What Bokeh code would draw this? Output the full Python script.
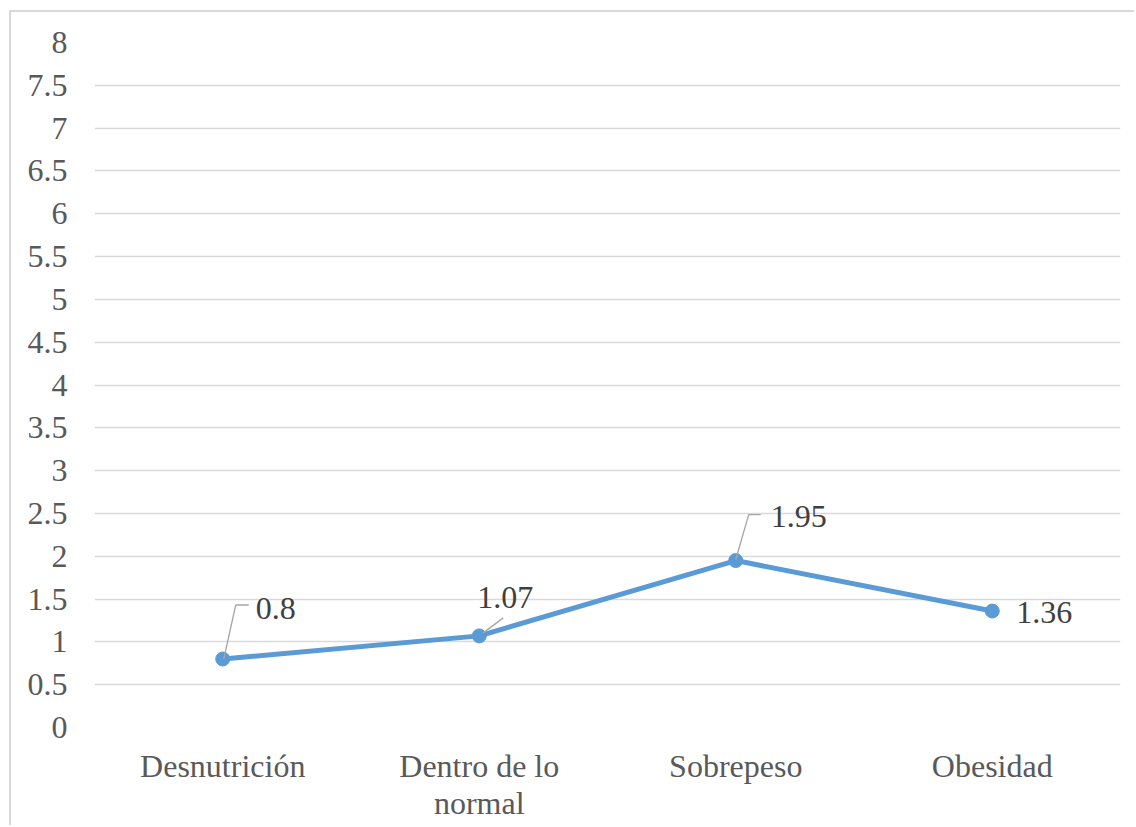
from bokeh.plotting import figure
from bokeh.models import Range1d, FixedTicker, ColumnDataSource
from bokeh.embed import file_html
from bokeh.resources import INLINE
from bokeh.core.properties import value

categories = ["Desnutrición", "Dentro de lo\nnormal", "Sobrepeso", "Obesidad"]
values = [0.8, 1.07, 1.95, 1.36]
labels = ["0.8", "1.07", "1.95", "1.36"]
y_ticks = [0, 0.5, 1, 1.5, 2, 2.5, 3, 3.5, 4, 4.5, 5, 5.5, 6, 6.5, 7, 7.5, 8]

FONT = "Liberation Serif"
TXT = "#595959"
BLUE = "#5B9BD5"
GRID = "#D9D9D9"

xs = list(range(len(categories)))

p = figure(width=1125, height=815, output_backend="svg", toolbar_location=None,
           x_range=Range1d(-0.5, len(categories) - 0.5), y_range=Range1d(0, 8),
           min_border_left=83, min_border_right=16, min_border_top=30, min_border_bottom=100)
p.margin = (10, 0, 0, 9)
p.styles = {"border-top": "2px solid #D9D9D9", "border-left": "2px solid #D9D9D9"}
p.outline_line_color = None

p.xaxis.ticker = FixedTicker(ticks=xs)
p.xaxis.major_label_overrides = {i: c for i, c in enumerate(categories)}
p.yaxis.ticker = FixedTicker(ticks=y_ticks)
p.yaxis.major_label_overrides = {t: ("%g" % t) for t in y_ticks}
for ax in (p.xaxis, p.yaxis):
    ax.axis_line_color = None
    ax.major_tick_line_color = None
    ax.minor_tick_line_color = None
    ax.major_label_text_font = FONT
    ax.major_label_text_font_size = "32px"
    ax.major_label_text_color = TXT
    ax.major_label_text_line_height = 1.05
p.yaxis.major_label_standoff = 21
p.xaxis.major_label_standoff = 14
p.xgrid.grid_line_color = None
p.ygrid.grid_line_color = GRID
p.ygrid.grid_line_width = 1.3

src = ColumnDataSource(dict(x=xs, y=values, label=labels,
                            xo=[33, -2, 35, 24], yo=[-51, -38, -44, 1]))

p.line("x", "y", source=src, line_color=BLUE, line_width=5)
p.scatter("x", "y", source=src, size=14, fill_color=BLUE, line_color=BLUE)

# leader lines (pixel offsets converted to data units)
px_x = 1026 / len(categories)
px_y = 685 / 8
leaders = {0: [(1, 0), (13, 54), (26, 54)],
           1: [(4, 3), (24, 18)],
           2: [(0, 1), (13, 46), (25, 46)]}
lx, ly = [], []
for i, pts in leaders.items():
    lx.append([xs[i] + dx / px_x for dx, dy in pts])
    ly.append([values[i] + dy / px_y for dx, dy in pts])
p.multi_line(lx, ly, line_color="#A6A6A6", line_width=1.3)

p.text("x", "y", text="label", source=src, x_offset="xo", y_offset="yo",
       text_font=value(FONT), text_font_size="32px", text_color="#404040",
       text_align="left", text_baseline="middle")

open("out.html", "w").write(file_html(p, INLINE))
